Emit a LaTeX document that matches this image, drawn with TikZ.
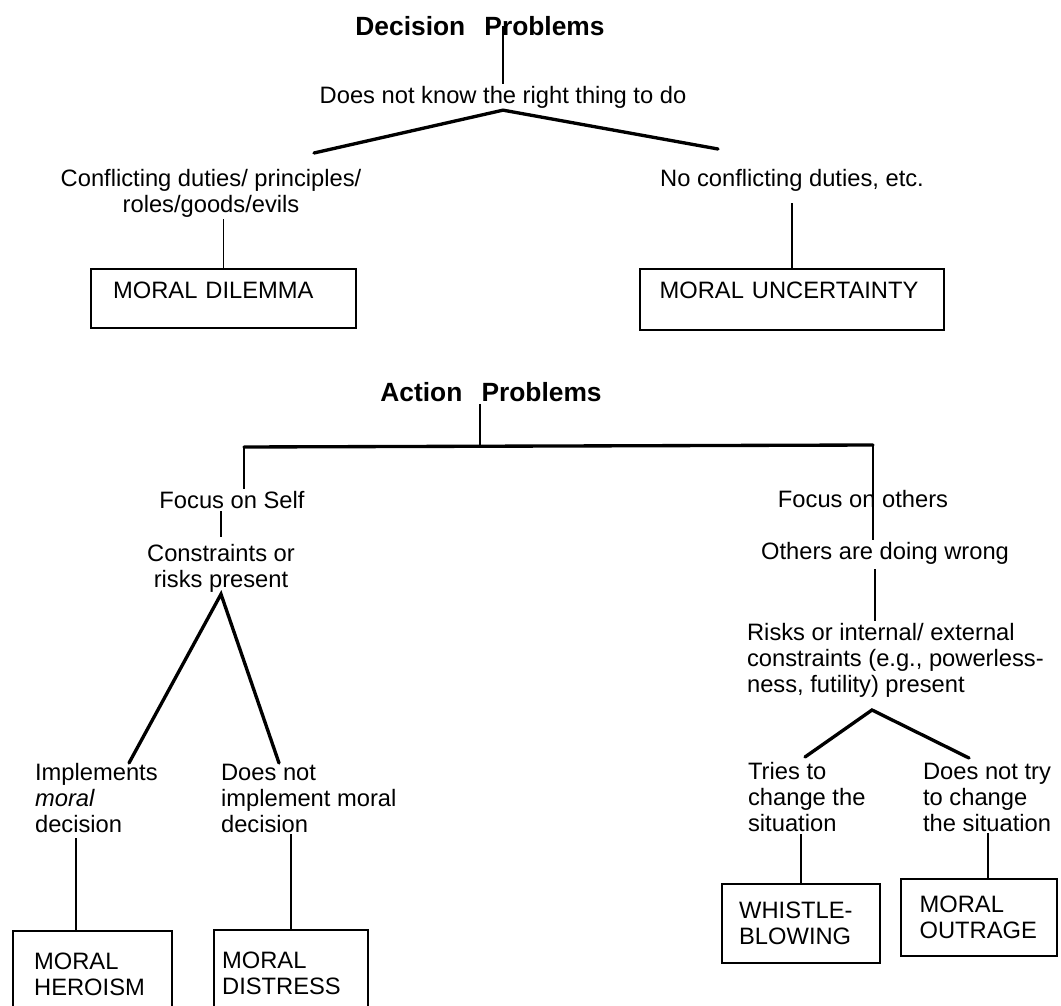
\documentclass[tikz,border=0pt]{standalone}
\usepackage{fontspec}
\setmainfont{Liberation Sans}
\tikzstyle{txt}=[inner sep=1pt,font=\fontsize{13.5}{14.8}\selectfont]
\tikzstyle{head}=[inner sep=1pt,font=\fontsize{15}{17}\selectfont\bfseries]
\tikzstyle{box}=[draw,line width=1.3pt,anchor=north west,align=left,font=\fontsize{13.5}{14.8}\selectfont]
\tikzstyle{edge} = [draw,line width=0.9pt,-]
\tikzstyle{thickedge} = [draw,line width=1.9pt,-,line cap=round]

\begin{document}
\begin{tikzpicture}[x=0.02cm,y=-0.02cm]
        \useasboundingbox (0,0) rectangle (1061,1006);
        % decision problems
        \node[head] (1) at (480,26) {Decision\hspace{0.45em} Problems};
        \node[txt] (2) at (503,97) {Does not know the right thing to do};
        \node[txt,align=center] (3) at (211,193) {Conflicting duties/ principles/\\roles/goods/evils};
        \node[txt] (4) at (792,180) {No conflicting duties, etc.};
        \node[box,text width=4.42cm,inner xsep=0.44cm,minimum height=1.18cm,text depth=0.34cm] (5) at (90,268) {MORAL DILEMMA};
        \node[box,text width=5.3cm,inner xsep=0.39cm,minimum height=1.22cm,text depth=0.38cm] (6) at (639,268) {MORAL UNCERTAINTY};
        \coordinate (2a) at (314,153);
        \coordinate (2b) at (718,149);
        \path[edge] (2.north) -- (2.north |- 1.center);
        \path[thickedge] (2a) -- (2.south) -- (2b);
        \path[edge] (5.north) -- (5.north |- 3.south);
        \path[edge,shorten >=0.2cm] (6.north) -- (6.north |- 4.south);
        % action problems
        \node[head] (7) at (491,392) {Action\hspace{0.45em} Problems};
        \coordinate (8) at (480,446);
        \coordinate (8a) at (244,447);
        \coordinate (8b) at (873,445);
        \path[edge] (7.south -| 8) -- (8);
        \path[thickedge] (8a) -- (8b);
        \node[txt] (9) at (232,500) {Focus on Self};
        \node[txt,align=center] (10) at (221,568) {Constraints or\\risks present};
        \node[txt] (11) at (863,499) {Focus on others};
        \node[txt] (12) at (885,553) {Others are doing wrong};
        \node[txt,align=left,anchor=west] (13) at (745,660) {Risks or internal/ external\\constraints (e.g., powerless-\\ness, futility) present};
        \coordinate (12a) at (875,569);
        \path[edge] (8a) -- (8a |- 9.north);
        \path[edge,shorten <=0.1cm] (10.north) -- (10.north |- 9.south);
        \path[edge] (8b) -- (8b |- 12.north);
        \path[edge] (12a) -- (12a |- 13.north);
        % self
        \node[txt,align=left,anchor=west] (14) at (33,798) {Implements\\\textit{moral}\\decision};
        \node[txt,align=left,anchor=west] (15) at (219,798) {Does not\\implement moral\\decision};
        \node[box,text width=2.34cm,inner xsep=0.42cm,minimum height=1.72cm] (16) at (12,930) {MORAL\\HEROISM};
        \node[box,text width=2.76cm,inner xsep=0.16cm,minimum height=1.74cm] (17) at (213,929) {MORAL\\DISTRESS};
        \coordinate (14a) at (129,763);
        \coordinate (15a) at (279,763);
        \coordinate (14b) at (76,838);
        \path[thickedge] (14a) -- (10.south) -- (15a);
        \path[edge] (14b) -- (14b |- 16.north);
        \path[edge] (17.north) -- (17.north |- 15.south);
        % others
        \node[txt,align=left,anchor=west] (18) at (746,797) {Tries to\\change the\\situation};
        \node[txt,align=left,anchor=west] (19) at (921,797) {Does not try\\to change\\the situation};
        \node[box,text width=2.48cm,inner xsep=0.34cm,minimum height=1.58cm] (20) at (721,883) {WHISTLE-\\BLOWING};
        \node[box,text width=2.38cm,inner xsep=0.37cm,minimum height=1.54cm] (21) at (900,878) {MORAL\\OUTRAGE};
        \coordinate (13a) at (872,710);
        \coordinate (18a) at (805,757);
        \coordinate (19a) at (969,758);
        \coordinate (19b) at (988,833);
        \path[thickedge] (18a) -- (13a) -- (19a);
        \path[edge] (20.north) -- (20.north |- 18.south);
        \path[edge] (19b) -- (19b |- 21.north);
\end{tikzpicture}
\end{document}
